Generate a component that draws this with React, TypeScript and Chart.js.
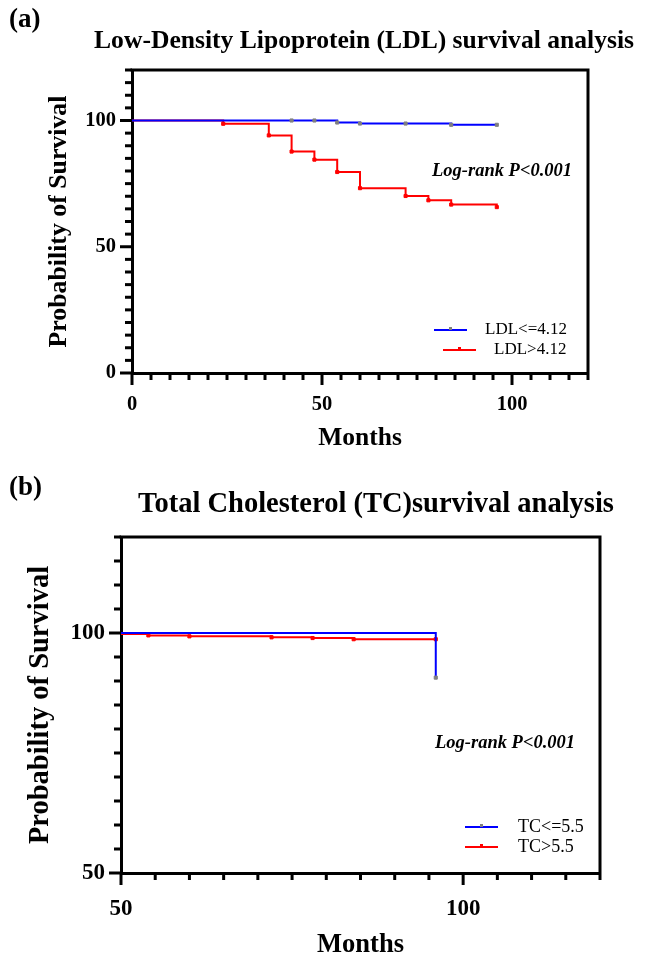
import React, { useEffect, useRef } from "react";
import { Chart, registerables } from "chart.js";

Chart.register(...registerables);

const FONT = "'Liberation Serif', 'Times New Roman', Times, serif";

// ---------- Panel (a): LDL ----------
const ldlLowLabel = "LDL<=4.12";
const ldlLowMonths = [0, 42, 48, 54, 60, 72, 84, 96];
const ldlLowSurvival = [100, 100, 100, 99.2, 98.8, 98.8, 98.3, 98.3];
const ldlHighLabel = "LDL>4.12";
const ldlHighMonths = [0, 24, 36, 42, 48, 54, 60, 72, 78, 84, 96];
const ldlHighSurvival = [100, 98.7, 94.1, 87.7, 84.5, 79.6, 73.2, 70.1, 68.4, 66.7, 65.7];
const ldlXLabels = [0, 50, 100];
const ldlYLabels = [0, 50, 100];

// ---------- Panel (b): TC ----------
const tcLowLabel = "TC<=5.5";
const tcLowMonths = [0, 96];
const tcLowSurvival = [100, 90.7];
const tcHighLabel = "TC>5.5";
const tcHighMonths = [0, 36, 54, 60, 72, 78, 84, 96];
const tcHighSurvival = [100, 99.8, 99.5, 99.3, 99.1, 98.95, 98.7, 98.7];
const tcXLabels = [50, 100];
const tcYLabels = [50, 100];

const logRankText = "Log-rank P<0.001";

type PanelSpec = {
  tag: string;
  title: string;
  titleSize: number;
  titleCx: number;
  titleCy: number;
  tagY: number;
  height: number;
  area: { left: number; top: number; right: number; bottom: number };
  xMin: number;
  xMax: number;
  yMin: number;
  yMax: number;
  xLabels: number[];
  yLabels: number[];
  tickSize: number;
  xTickPad: number;
  monthsSize: number;
  monthsPad: number;
  yTitleSize: number;
  yTitlePad: number;
  legendSize: number;
  logRank: { x: number; y: number };
  legend: { rows: { x1: number; x2: number; tx: number; y: number }[] };
  series: { label: string; months: number[]; surv: number[]; color: string; mark: string }[];
};

function makePlugin(spec: PanelSpec) {
  return {
    id: "decor",
    afterDraw(chart: any) {
      const { ctx, chartArea: ca } = chart;
      const xs = chart.scales.x;
      const ys = chart.scales.y;
      ctx.save();
      ctx.strokeStyle = "#000";
      ctx.lineWidth = 3;
      ctx.lineCap = "butt";
      // frame top & right
      ctx.beginPath();
      ctx.moveTo(ca.left - 1.5, ca.top);
      ctx.lineTo(ca.right, ca.top);
      ctx.lineTo(ca.right, ca.bottom);
      ctx.stroke();
      // tick marks
      xs.ticks.forEach((t: any) => {
        const px = xs.getPixelForValue(t.value);
        const len = spec.xLabels.includes(t.value) ? 12 : 7;
        ctx.beginPath();
        ctx.moveTo(px, ca.bottom);
        ctx.lineTo(px, ca.bottom + len);
        ctx.stroke();
      });
      ys.ticks.forEach((t: any) => {
        const py = ys.getPixelForValue(t.value);
        const len = spec.yLabels.includes(t.value) ? 12 : 7;
        ctx.beginPath();
        ctx.moveTo(ca.left, py);
        ctx.lineTo(ca.left - len, py);
        ctx.stroke();
      });
      // panel tag and title
      ctx.fillStyle = "#000";
      ctx.textBaseline = "middle";
      ctx.textAlign = "left";
      ctx.font = `bold 27px ${FONT}`;
      ctx.fillText(spec.tag, 9, spec.tagY);
      ctx.textAlign = "center";
      ctx.font = `bold ${spec.titleSize}px ${FONT}`;
      ctx.fillText(spec.title, spec.titleCx, spec.titleCy);
      // log-rank
      ctx.textAlign = "left";
      ctx.font = `italic bold 18.5px ${FONT}`;
      ctx.fillText(logRankText, spec.logRank.x, spec.logRank.y);
      // legend
      ctx.font = `${spec.legendSize}px ${FONT}`;
      spec.series.forEach((s, i) => {
        const r = spec.legend.rows[i];
        ctx.strokeStyle = s.color;
        ctx.lineWidth = 2;
        ctx.beginPath();
        ctx.moveTo(r.x1, r.y);
        ctx.lineTo(r.x2, r.y);
        ctx.stroke();
        ctx.fillStyle = s.mark;
        const mx = (r.x1 + r.x2) / 2;
        ctx.fillRect(mx - 1.5, r.y - 3, 3, 3);
        ctx.fillStyle = "#000";
        ctx.fillText(s.label, r.tx, r.y);
      });
      ctx.restore();
    },
  };
}

function Panel({ spec }: { spec: PanelSpec }) {
  const ref = useRef<HTMLCanvasElement | null>(null);
  useEffect(() => {
    if (!ref.current) return;
    const W = 650;
    const H = spec.height;
    const tickFont = { family: FONT, size: spec.tickSize, weight: "bold" as const };
    const chart = new Chart(ref.current, {
      type: "line",
      data: {
        datasets: spec.series.map((s) => ({
          label: s.label,
          data: s.months.map((m, i) => ({ x: m, y: s.surv[i] })),
          borderColor: s.color,
          backgroundColor: s.mark,
          borderWidth: 2,
          stepped: true,
          fill: false,
          pointStyle: "rect",
          pointRadius: (c: any) => (c.dataIndex === 0 ? 0 : 2.2),
          pointBorderWidth: 1,
          pointBorderColor: s.mark,
          pointBackgroundColor: s.mark,
        })),
      },
      options: {
        animation: false,
        responsive: false,
        devicePixelRatio: 1,
        layout: {
          padding: {
            left: 0,
            top: spec.area.top,
            right: W - spec.area.right,
            bottom: 0,
          },
        },
        plugins: {
          legend: { display: false },
          title: { display: false },
          tooltip: { enabled: false },
        },
        scales: {
          x: {
            type: "linear",
            min: spec.xMin,
            max: spec.xMax,
            afterFit: (s: any) => {
              s.height = H - spec.area.bottom;
            },
            grid: { display: false, drawTicks: false },
            border: { display: true, color: "#000", width: 3 },
            ticks: {
              stepSize: 5,
              autoSkip: false,
              maxRotation: 0,
              padding: spec.xTickPad,
              color: "#000",
              font: tickFont,
              callback: (v: any) => (spec.xLabels.includes(Number(v)) ? String(v) : ""),
            },
            title: {
              display: true,
              text: "Months",
              color: "#000",
              font: { family: FONT, size: spec.monthsSize, weight: "bold", lineHeight: 1 },
              padding: { top: 0, bottom: spec.monthsPad },
            },
          },
          y: {
            type: "linear",
            min: spec.yMin,
            max: spec.yMax,
            afterFit: (s: any) => {
              s.width = spec.area.left;
            },
            grid: { display: false, drawTicks: false },
            border: { display: true, color: "#000", width: 3 },
            ticks: {
              stepSize: 5,
              autoSkip: false,
              padding: 16,
              color: "#000",
              font: tickFont,
              callback: (v: any) => (spec.yLabels.includes(Number(v)) ? String(v) : ""),
            },
            title: {
              display: true,
              text: "Probability of Survival",
              color: "#000",
              font: { family: FONT, size: spec.yTitleSize, weight: "bold", lineHeight: 1 },
              padding: { top: spec.yTitlePad, bottom: 0 },
            },
          },
        },
      },
      plugins: [makePlugin(spec)],
    } as any);
    return () => chart.destroy();
  }, [spec]);
  return (
    <canvas
      ref={ref}
      width={650}
      height={spec.height}
      style={{ display: "block", width: 650, height: spec.height }}
    />
  );
}

const specA: PanelSpec = {
  tag: "(a)",
  title: "Low-Density Lipoprotein (LDL) survival analysis",
  titleSize: 25.6,
  titleCx: 364,
  titleCy: 41,
  tagY: 20,
  height: 470,
  area: { left: 132, top: 70, right: 588, bottom: 373 },
  xMin: 0,
  xMax: 120,
  yMin: 0,
  yMax: 120,
  xLabels: ldlXLabels,
  yLabels: ldlYLabels,
  tickSize: 20.5,
  xTickPad: 19,
  monthsSize: 25.5,
  monthsPad: 19,
  yTitleSize: 25.8,
  yTitlePad: 46,
  legendSize: 17,
  logRank: { x: 432, y: 171 },
  legend: {
    rows: [
      { x1: 434, x2: 467, tx: 485, y: 330 },
      { x1: 443, x2: 476, tx: 494, y: 350 },
    ],
  },
  series: [
    { label: ldlLowLabel, months: ldlLowMonths, surv: ldlLowSurvival, color: "#0000ff", mark: "#808080" },
    { label: ldlHighLabel, months: ldlHighMonths, surv: ldlHighSurvival, color: "#ff0000", mark: "#ff0000" },
  ],
};

const specB: PanelSpec = {
  tag: "(b)",
  title: "Total Cholesterol (TC)survival analysis",
  titleSize: 28.5,
  titleCx: 376,
  titleCy: 35,
  tagY: 18,
  height: 488,
  area: { left: 121, top: 67, right: 600, bottom: 403 },
  xMin: 50,
  xMax: 120,
  yMin: 50,
  yMax: 120,
  xLabels: tcXLabels,
  yLabels: tcYLabels,
  tickSize: 23,
  xTickPad: 22,
  monthsSize: 26.5,
  monthsPad: 0,
  yTitleSize: 28.5,
  yTitlePad: 26,
  legendSize: 18,
  logRank: { x: 435, y: 273 },
  legend: {
    rows: [
      { x1: 465, x2: 498, tx: 518, y: 357 },
      { x1: 465, x2: 498, tx: 518, y: 377 },
    ],
  },
  series: [
    { label: tcLowLabel, months: tcLowMonths, surv: tcLowSurvival, color: "#0000ff", mark: "#808080" },
    { label: tcHighLabel, months: tcHighMonths, surv: tcHighSurvival, color: "#ff0000", mark: "#ff0000" },
  ],
};

export default function App() {
  return (
    <div
      style={{
        position: "absolute",
        left: 0,
        top: 0,
        width: 650,
        height: 958,
        background: "#fff",
        overflow: "hidden",
      }}
    >
      <Panel spec={specA} />
      <Panel spec={specB} />
    </div>
  );
}
